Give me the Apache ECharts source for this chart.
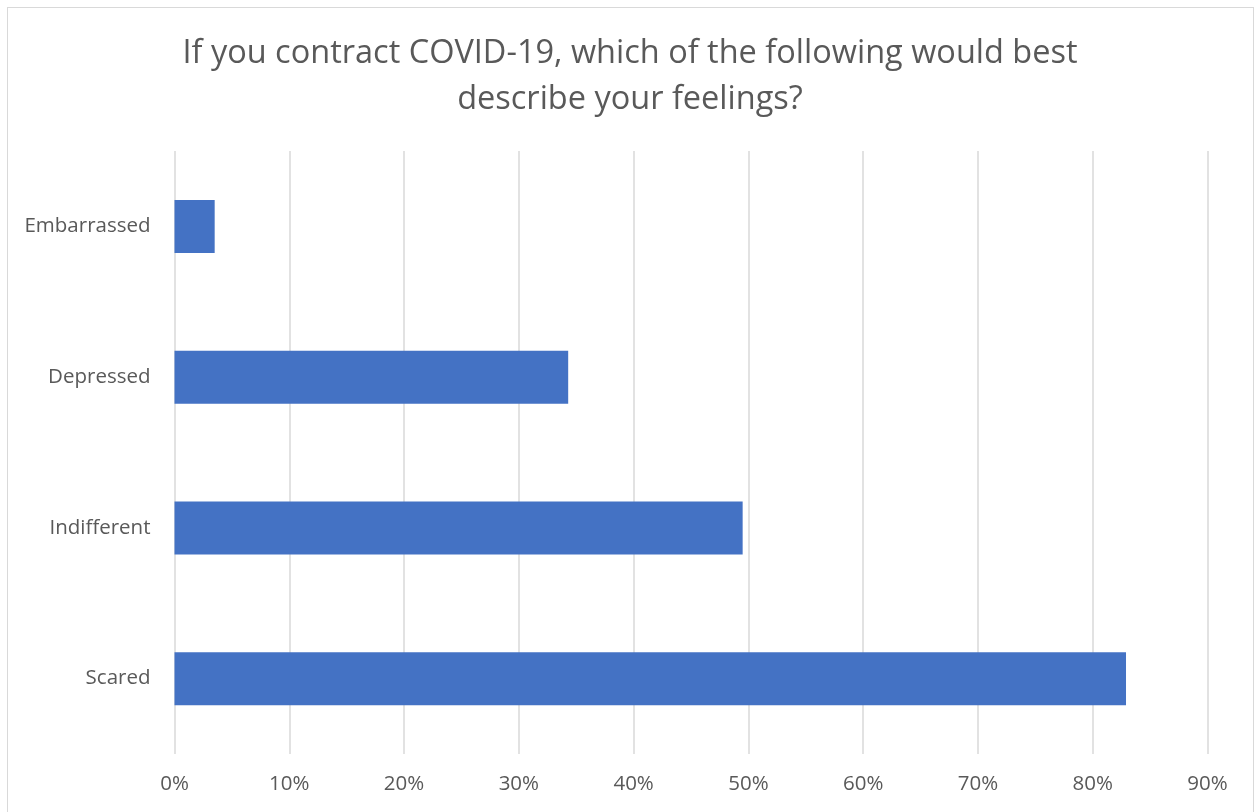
<!DOCTYPE html>
<html><head><meta charset="utf-8">
<script src="https://cdn.jsdelivr.net/npm/echarts@6/dist/echarts.min.js"></script>
<style>html,body{margin:0;padding:0;background:#fff}#c{width:1260px;height:812px}
#frame{position:absolute;left:7px;top:7px;width:1247px;height:820px;border:1.5px solid #d9d9d9;box-sizing:border-box;pointer-events:none}</style>
</head><body><div id="c"></div><div id="frame"></div>
<script>
const categories = ["Scared", "Indifferent", "Depressed", "Embarrassed"];
const values = [82.9, 49.5, 34.3, 3.5];
const titleText = "If you contract COVID-19, which of the following would best\ndescribe your feelings?";

const chart = echarts.init(document.getElementById('c'));
chart.setOption({
  animation: false,
  title: {
    text: titleText, left: 'center', top: 26,
    textStyle: { fontFamily: 'Open Sans', fontSize: 32.5, fontWeight: 'normal', color: '#595959', lineHeight: 46 }
  },
  grid: { left: 174.5, right: 52.5, top: 151, bottom: 58, containLabel: false },
  xAxis: {
    type: 'value', min: 0, max: 90, interval: 10,
    axisLabel: { formatter: '{value}%', color: '#595959', fontFamily: 'Open Sans', fontSize: 20.5, margin: 20 },
    splitLine: { lineStyle: { color: '#d9d9d9', width: 1.5 } },
    axisLine: { show: false }, axisTick: { show: false }
  },
  yAxis: {
    type: 'category', data: categories,
    axisLabel: { color: '#595959', fontFamily: 'Open Sans', fontSize: 20.5, margin: 24 },
    axisLine: { show: false }, axisTick: { show: false }
  },
  series: [{
    type: 'bar', data: values, barWidth: 53,
    itemStyle: { color: '#4472c4' }
  }]
});
</script></body></html>
